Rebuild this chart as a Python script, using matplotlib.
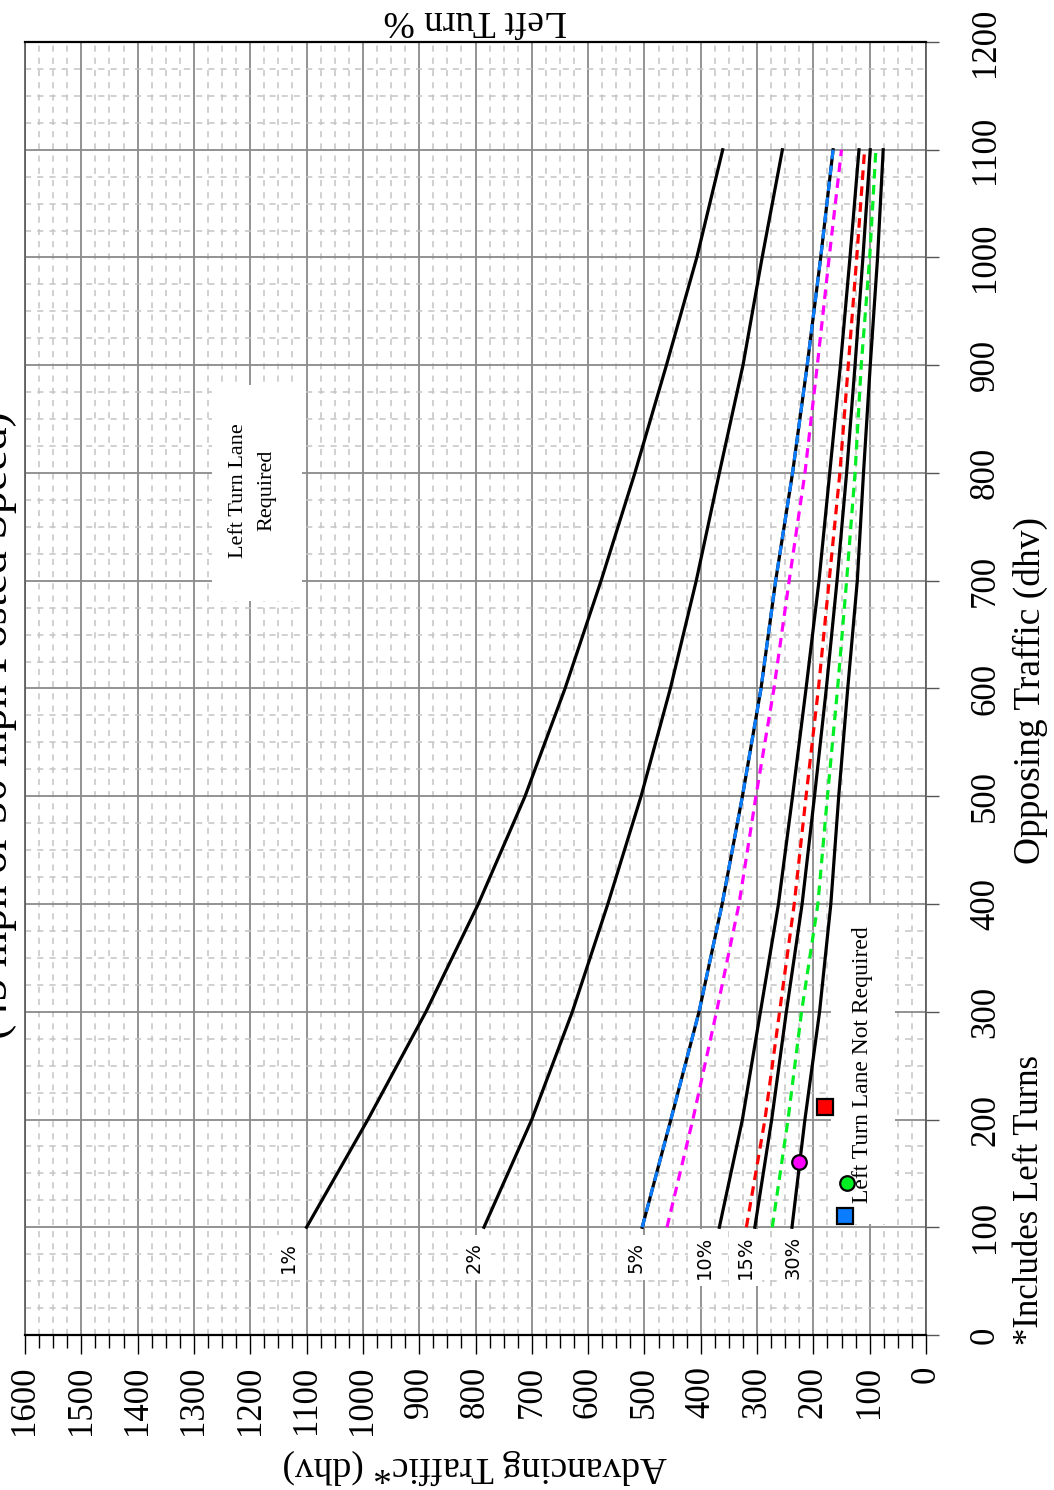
import matplotlib
matplotlib.use("Agg")
import matplotlib.pyplot as plt
from matplotlib.ticker import MultipleLocator
from matplotlib.patches import Rectangle

# --- datos (dhv) ---
opposing = [100, 200, 300, 400, 500, 600, 700, 800, 900, 1000, 1100]

lt_1 = [1100, 991, 888, 795, 712, 641, 577, 517, 461, 407, 361]
lt_2 = [785, 700, 628, 565, 506, 454, 408, 367, 325, 291, 255]
lt_5 = [504, 453, 403, 362, 326, 293, 267, 237, 211, 187, 165]
lt_10 = [367, 326, 294, 262, 237, 213, 190, 171, 152, 135, 119]
lt_15 = [304, 274, 248, 220, 198, 177, 158, 141, 126, 112, 99]
lt_30 = [238, 215, 189, 169, 155, 139, 122, 111, 99, 86, 76]

# curvas punteadas de color
blue_dash = [504, 453, 403, 362, 326, 293, 267, 237, 211, 187, 165]
magenta_dash = [460, 414, 372, 332, 302, 270, 243, 215, 193, 172, 150]
red_dash = [319, 286, 260, 234, 213, 191, 172, 153, 138, 123, 109]
green_dash = [273, 245, 221, 192, 175, 157, 141, 126, 115, 100, 89]

# puntos marcados (advancing, opposing)
pt_adv = [179, 225, 140, 143]
pt_opp = [212, 161, 141, 110]
pt_color = ["#ff0000", "#ff00ff", "#00ee22", "#0a7cff"]
pt_marker = ["s", "o", "o", "s"]

curve_names = ["1%", "2%", "5%", "10%", "15%", "30%"]
name_adv = [1132, 802, 515, 394, 321, 236]

SERIF = "Liberation Serif"

fig = plt.figure(figsize=(10.54, 14.90), dpi=100)
ax = fig.add_axes([25 / 1054, 1 - 1335 / 1490, 901 / 1054, 1293 / 1490])

ax.set_xlim(1600, 0)
ax.set_ylim(0, 1200)

# grilla
ax.xaxis.set_major_locator(MultipleLocator(100))
ax.xaxis.set_minor_locator(MultipleLocator(25))
ax.yaxis.set_major_locator(MultipleLocator(100))
ax.yaxis.set_minor_locator(MultipleLocator(25))
ax.grid(which="major", color="#8a8a8a", lw=1.3, zorder=0)
ax.grid(which="minor", color="#c4c4c4", lw=1.1, ls=(0, (4, 4)), zorder=0)
ax.set_axisbelow(True)

# ejes
ax.yaxis.tick_right()
ax.tick_params(axis="x", which="major", length=14, width=1, pad=8,
               labelsize=25, labelrotation=90, direction="out")
ax.tick_params(axis="x", which="minor", length=9, width=1, direction="out")
ax.tick_params(axis="y", which="major", length=9, width=1, pad=22,
               labelsize=25, labelrotation=90, direction="out", colors="#555555",
               labelcolor="black")
ax.tick_params(axis="y", which="minor", length=0)
for lab in ax.get_xticklabels() + ax.get_yticklabels():
    lab.set_fontfamily(SERIF)
for lab in ax.get_yticklabels():
    lab.set_va("center")

for side in ["top", "bottom"]:
    ax.spines[side].set_color("black")
    ax.spines[side].set_linewidth(1.6)
for side in ["left", "right"]:
    ax.spines[side].set_color("#555555")
    ax.spines[side].set_linewidth(1.2)

# curvas negras
for serie in [lt_1, lt_2, lt_5, lt_10, lt_15, lt_30]:
    ax.plot(serie, opposing, color="black", lw=2.3, zorder=3)

# curvas de color punteadas
for serie, col in zip([blue_dash, magenta_dash, red_dash, green_dash],
                      ["#0a7cff", "#ff00ff", "#ff0000", "#00ee22"]):
    ax.plot(serie, opposing, color=col, lw=2.3, ls=(0, (3, 2)), zorder=4)

# marcadores
for a, o, c, m in zip(pt_adv, pt_opp, pt_color, pt_marker):
    ax.plot(a, o, marker=m, ms=11 if m == "s" else 10.5, color=c,
            mec="black", mew=1.6, ls="none", zorder=6)

# etiquetas de % de giro a la izquierda
for name, a in zip(curve_names, name_adv):
    ax.text(a, 72, name, rotation=90, ha="center", va="center", fontsize=14,
            family="DejaVu Sans", zorder=2,
            bbox=dict(boxstyle="square,pad=0.35", fc="white", ec="none"))

# zona "requerido"
ax.add_patch(Rectangle((0.2075, 0.568), 0.1, 0.167, transform=ax.transAxes,
                       fc="white", ec="none", zorder=1))
ax.text(1196, 784, "Left Turn Lane\nRequired", rotation=90, ha="center",
        va="center", fontsize=16, family=SERIF, linespacing=1.7, zorder=2,
        multialignment="center")

ax.text(112, 251, "Left Turn Lane Not Required", rotation=90, ha="center",
        va="center", fontsize=17, family=SERIF, zorder=2,
        bbox=dict(boxstyle="square,pad=0.9", fc="white", ec="none"))

# textos fuera del grafico
fig.text(1030 / 1054, 1 - 690 / 1490, "Opposing Traffic (dhv)", rotation=90,
         ha="center", va="center", fontsize=27, family=SERIF)
fig.text(1030 / 1054, 1 - 1200 / 1490, "*Includes Left Turns", rotation=90,
         ha="center", va="center", fontsize=25, family=SERIF)
fig.text(475 / 1054, 1 - 1467 / 1490, "Advancing Traffic* (dhv)", rotation=180,
         ha="center", va="center", fontsize=27, family=SERIF)
fig.text(475 / 1054, 1 - 20 / 1490, "Left Turn %", rotation=180,
         ha="center", va="center", fontsize=27, family=SERIF)
# titulo: recortado en el borde izquierdo, igual que en la imagen original
fig.text(-4 / 1054, 1 - 725 / 1490, "(45 mph or 50 mph Posted Speed)",
         rotation=90, ha="center", va="center", fontsize=33, family=SERIF)

fig.savefig("out.png", dpi=100)
